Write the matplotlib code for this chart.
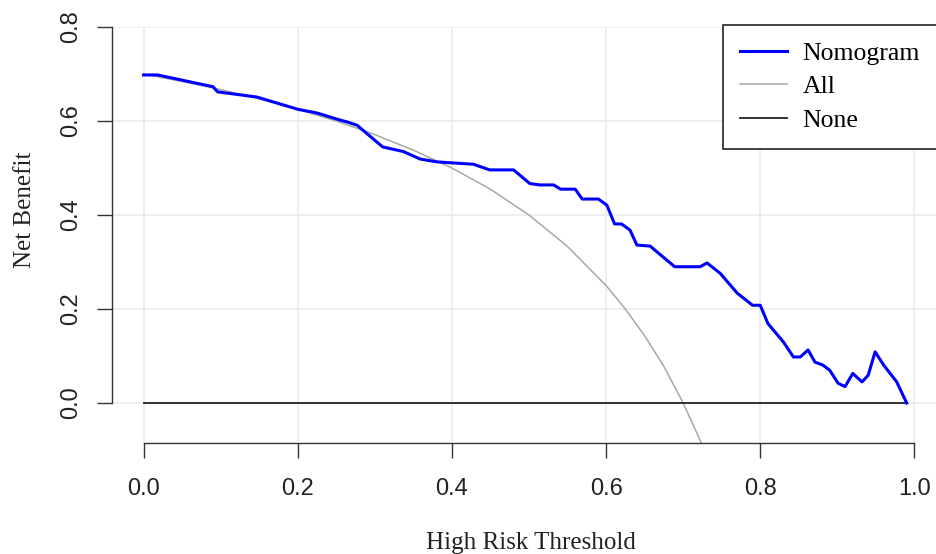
import numpy as np
import matplotlib.pyplot as plt

# threshold values and net benefit
nomo_x = [0.0, 0.018, 0.09, 0.096, 0.147, 0.2, 0.225, 0.255, 0.264, 0.277,
          0.31, 0.337, 0.359, 0.381, 0.428, 0.449, 0.48, 0.501, 0.514, 0.532,
          0.541, 0.56, 0.569, 0.59, 0.601, 0.611, 0.62, 0.631, 0.64, 0.657,
          0.689, 0.722, 0.731, 0.748, 0.77, 0.79, 0.8, 0.81, 0.83, 0.843,
          0.852, 0.862, 0.871, 0.881, 0.89, 0.901, 0.91, 0.92, 0.932, 0.94,
          0.949, 0.96, 0.977, 0.99]
nomo_y = [0.698, 0.698, 0.673, 0.662, 0.651, 0.625, 0.617, 0.602, 0.598, 0.591,
          0.545, 0.535, 0.519, 0.513, 0.508, 0.496, 0.496, 0.467, 0.464, 0.464,
          0.455, 0.455, 0.434, 0.434, 0.421, 0.381, 0.381, 0.368, 0.336, 0.334,
          0.29, 0.29, 0.298, 0.276, 0.234, 0.208, 0.208, 0.169, 0.13, 0.098,
          0.098, 0.113, 0.087, 0.081, 0.07, 0.042, 0.035, 0.063, 0.045, 0.059,
          0.109, 0.081, 0.045, 0.0]

all_x = [0.0, 0.05, 0.1, 0.15, 0.2, 0.25, 0.3, 0.35, 0.4, 0.45, 0.5, 0.55,
         0.6, 0.625, 0.65, 0.675, 0.7, 0.725]
all_y = [0.7, 0.684, 0.667, 0.647, 0.625, 0.6, 0.571, 0.538, 0.5, 0.455, 0.4,
         0.333, 0.25, 0.2, 0.143, 0.078, 0.0, -0.09]

none_x = [0.0, 0.99]
none_y = [0.0, 0.0]

xticks = [0.0, 0.2, 0.4, 0.6, 0.8, 1.0]
yticks = [0.0, 0.2, 0.4, 0.6, 0.8]

fig = plt.figure(figsize=(9.36, 5.54), dpi=100)
ax = fig.add_axes([112 / 936, 111 / 554, 1 - 112 / 936, (443 - 27) / 554])
ax.set_xlim(-0.041, 1.028)
ax.set_ylim(-0.085, 0.8)

# grid
for v in xticks:
    ax.axvline(v, color='#ebebeb', lw=1.2, zorder=0)
for v in yticks:
    ax.axhline(v, color='#ebebeb', lw=1.2, zorder=0)

ax.plot(all_x, all_y, color='#a8a8a8', lw=1.1, label='All', zorder=2)
ax.plot(none_x, none_y, color='#222222', lw=1.3, label='None', zorder=2)
ax.plot(nomo_x, nomo_y, color='#0000ff', lw=2.2, label='Nomogram', zorder=3)

for s in ['top', 'right']:
    ax.spines[s].set_visible(False)
ax.spines['left'].set_bounds(0, 0.8)
ax.spines['bottom'].set_bounds(0, 1.0)
for s in ['left', 'bottom']:
    ax.spines[s].set_color('#333333')
    ax.spines[s].set_linewidth(1.0)

ax.set_xticks(xticks)
ax.set_yticks(yticks)
ax.set_xticklabels(['%.1f' % v for v in xticks])
ax.set_yticklabels(['%.1f' % v for v in yticks], rotation=90, va='center')
ax.tick_params(axis='both', direction='out', length=11, width=1.0,
               color='#333333', labelsize=17, labelcolor='#222222', pad=14)
ax.tick_params(axis='y', pad=10.5)
for t in ax.get_xticklabels() + ax.get_yticklabels():
    t.set_family('Liberation Sans')

fig.text(531 / 936, 1 - 543 / 554, 'High Risk Threshold', ha='center', va='center',
         family='Liberation Serif', fontsize=18, color='#222222')
fig.text(25 / 936, 1 - 210 / 554, 'Net Benefit', ha='center', va='center', rotation=90,
         family='Liberation Serif', fontsize=18, color='#222222')

h, l = ax.get_legend_handles_labels()
order = [2, 0, 1]
leg = ax.legend([h[i] for i in order], [l[i] for i in order],
                loc='upper left', bbox_to_anchor=(723 / 936, 1 - 25 / 554),
                bbox_transform=fig.transFigure, borderaxespad=0,
                prop={'family': 'Liberation Serif', 'size': 18.5},
                handlelength=1.85, handletextpad=0.6, labelspacing=0.42,
                borderpad=0.65, fancybox=False, framealpha=1)
leg.get_frame().set_edgecolor('#222222')
leg.get_frame().set_linewidth(1.2)

fig.savefig('out.png', dpi=100)
